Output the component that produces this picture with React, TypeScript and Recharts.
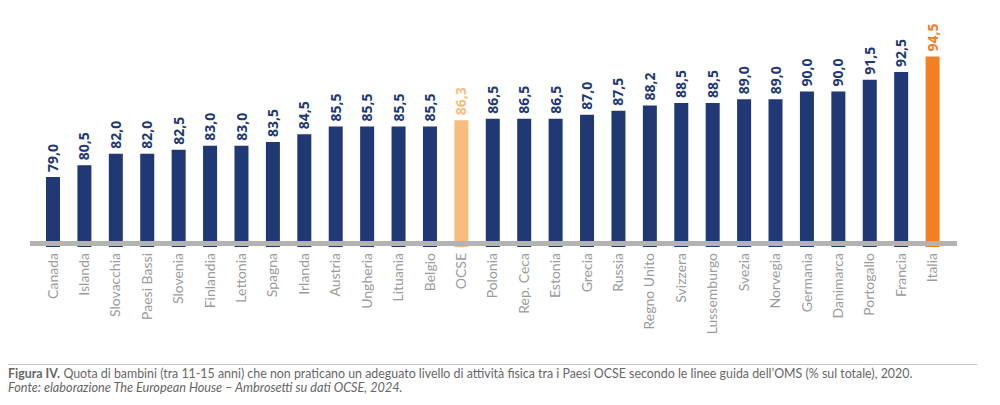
import React from "react";
import { BarChart, Bar, XAxis, YAxis, ReferenceLine, LabelList, Cell } from "recharts";

const countries = [
  "Canada", "Islanda", "Slovacchia", "Paesi Bassi", "Slovenia", "Finlandia", "Lettonia", "Spagna",
  "Irlanda", "Austria", "Ungheria", "Lituania", "Belgio", "OCSE", "Polonia", "Rep. Ceca", "Estonia",
  "Grecia", "Russia", "Regno Unito", "Svizzera", "Lussemburgo", "Svezia", "Norvegia", "Germania",
  "Danimarca", "Portogallo", "Francia", "Italia",
];
const values = [
  79.0, 80.5, 82.0, 82.0, 82.5, 83.0, 83.0, 83.5, 84.5, 85.5, 85.5, 85.5, 85.5, 86.3, 86.5, 86.5,
  86.5, 87.0, 87.5, 88.2, 88.5, 88.5, 89.0, 89.0, 90.0, 90.0, 91.5, 92.5, 94.5,
];

const NAVY = "#203874";
const OCSE_C = "#f6bd7e";
const ITALY_C = "#f28023";

const colorFor = (name: string) => (name === "Italia" ? ITALY_C : name === "OCSE" ? OCSE_C : NAVY);

const data = countries.map((c, i) => ({ name: c, value: values[i] }));

const fmt = (v: number) => v.toFixed(1).replace(".", ",");

const Tick = (props: any) => {
  const { x, y, payload } = props;
  return (
    <text
      x={x}
      y={y}
      transform={`rotate(-90, ${x}, ${y})`}
      textAnchor="end"
      dy="0.35em"
      fill="#9b9b9b"
      fontSize={14}
      fontFamily="Lato, 'Open Sans', sans-serif"
    >
      {payload.value}
    </text>
  );
};

const ValueLabel = (props: any) => {
  const { x, y, width, index } = props;
  const cx = x + width / 2;
  const ty = y - 5;
  const d = data[index];
  return (
    <text
      x={cx}
      y={ty}
      transform={`rotate(-90, ${cx}, ${ty})`}
      textAnchor="start"
      dy="0.36em"
      fill={colorFor(d.name)}
      fontSize={14}
      fontWeight="bold"
      fontFamily="'Open Sans', Lato, sans-serif"
    >
      {fmt(d.value)}
    </text>
  );
};

export default function App() {
  return (
    <div style={{ position: "absolute", left: 0, top: 0, width: 1000, height: 405, background: "#fff" }}>
      <BarChart
        width={1000}
        height={360}
        data={data}
        margin={{ top: 13.6, left: 30, right: 43, bottom: 0 }}
        barCategoryGap={0}
      >
        <XAxis
          dataKey="name"
          interval={0}
          height={113}
          tickLine={false}
          axisLine={false}
          tick={<Tick />}
          tickMargin={0}
          padding={{ left: 7, right: 9 }}
          dy={0}
        />
        <YAxis hide domain={[70, 100]} allowDataOverflow />
        <Bar dataKey="value" barSize={14} isAnimationActive={false}>
          {data.map((d) => (
            <Cell key={d.name} fill={colorFor(d.name)} />
          ))}
          <LabelList dataKey="value" content={<ValueLabel />} />
        </Bar>
        <ReferenceLine y={70.45} stroke="#b3b3b3" strokeWidth={5} />
      </BarChart>
      <div style={{ position: "absolute", left: 8, top: 363.5, width: 969, height: 1.5, background: "#c8c8c8" }} />
      <div
        style={{
          position: "absolute",
          left: 8,
          top: 367,
          fontFamily: "Lato, 'Open Sans', sans-serif",
          fontSize: 12.4,
          lineHeight: "14px",
          color: "#666",
          whiteSpace: "nowrap",
        }}
      >
        <div style={{ display: "flex", height: 13 }}>
          <span style={{ fontWeight: "bold", marginRight: 3.5 }}>Figura IV.</span>
          <span>Quota di bambini (tra 11-15 anni) che non praticano un adeguato livello di attività fisica tra i Paesi OCSE secondo le linee guida dell’OMS (% sul totale), 2020.</span>
        </div>
        <div style={{ fontStyle: "italic", fontSize: 12.7 }}>
          Fonte: elaborazione The European House – Ambrosetti su dati OCSE, 2024.
        </div>
      </div>
    </div>
  );
}
